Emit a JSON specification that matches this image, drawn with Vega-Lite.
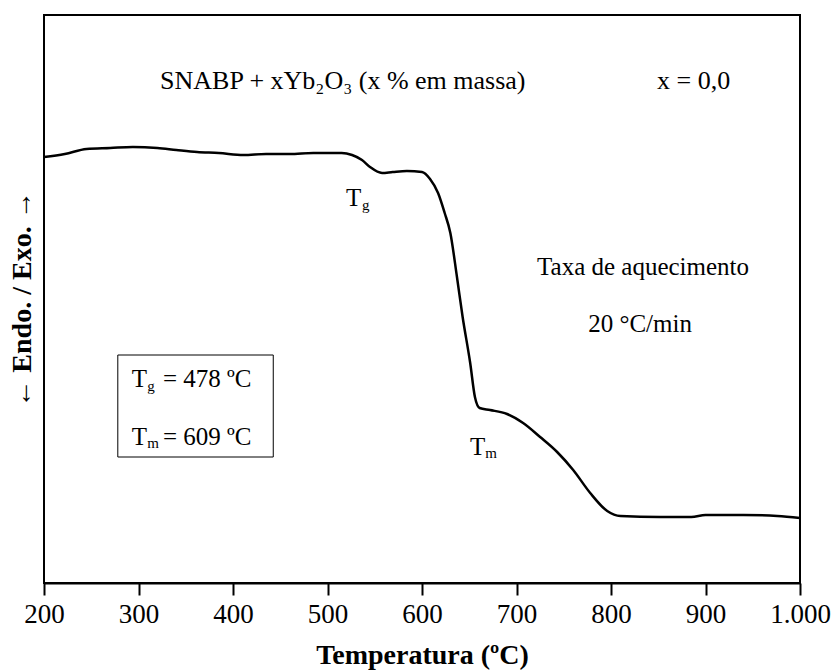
{
  "$schema": "https://vega.github.io/schema/vega-lite/v6.json",
  "width": 756,
  "height": 568,
  "autosize": {"type": "none"},
  "padding": {"left": 44, "top": 15, "right": 32, "bottom": 88},
  "background": "white",
  "config": {
    "font": "Liberation Serif",
    "view": {"stroke": "black", "strokeWidth": 2},
    "axis": {"labelFont": "Liberation Serif", "titleFont": "Liberation Serif", "labelColor": "black", "titleColor": "black", "grid": false}
  },
  "datasets": {
    "dsc": [
      {"T": 200, "v": 426}, {"T": 222, "v": 429}, {"T": 245, "v": 434}, {"T": 270, "v": 435},
      {"T": 294, "v": 436}, {"T": 320, "v": 435}, {"T": 340, "v": 433}, {"T": 362, "v": 431},
      {"T": 385, "v": 430}, {"T": 411, "v": 428}, {"T": 435, "v": 429}, {"T": 460, "v": 429},
      {"T": 485, "v": 430}, {"T": 503, "v": 430}, {"T": 515, "v": 430}, {"T": 526, "v": 428},
      {"T": 536.5, "v": 423}, {"T": 545, "v": 416}, {"T": 557.7, "v": 410}, {"T": 569, "v": 411},
      {"T": 584, "v": 412}, {"T": 600, "v": 411}, {"T": 608.5, "v": 404}, {"T": 617, "v": 390},
      {"T": 624, "v": 370}, {"T": 630, "v": 350}, {"T": 637, "v": 306},
      {"T": 643, "v": 266}, {"T": 651, "v": 220}, {"T": 656, "v": 186}, {"T": 661, "v": 175},
      {"T": 672, "v": 173}, {"T": 690, "v": 169}, {"T": 707, "v": 160}, {"T": 725, "v": 146},
      {"T": 743, "v": 131}, {"T": 760, "v": 113}, {"T": 778, "v": 90}, {"T": 796, "v": 72},
      {"T": 810, "v": 67}, {"T": 852, "v": 66}, {"T": 885, "v": 66}, {"T": 900, "v": 68},
      {"T": 940, "v": 68}, {"T": 976, "v": 67}, {"T": 1000, "v": 65}
    ],
    "notes": [
      {"kind": "top", "T": 322.8, "v": 494, "label": "SNABP + xYb₂O₃ (x % em massa)"},
      {"kind": "top", "T": 848.7, "v": 494, "label": "x = 0,0"},
      {"kind": "center", "T": 833.9, "v": 308, "label": "Taxa de aquecimento"},
      {"kind": "center", "T": 830.7, "v": 251, "label": "20 °C/min"},
      {"kind": "main", "T": 519.6, "v": 377, "label": "T"},
      {"kind": "sub", "T": 536.5, "v": 373, "label": "g"},
      {"kind": "main", "T": 650.8, "v": 128, "label": "T"},
      {"kind": "sub", "T": 667, "v": 125, "label": "m"},
      {"kind": "main", "T": 292.8, "v": 196, "label": "T"},
      {"kind": "sub", "T": 309.3, "v": 192, "label": "g"},
      {"kind": "main", "T": 325.9, "v": 196, "label": "= 478 ºC"},
      {"kind": "main", "T": 292.8, "v": 138, "label": "T"},
      {"kind": "sub", "T": 309.3, "v": 135, "label": "m"},
      {"kind": "main", "T": 325.9, "v": 138, "label": "= 609 ºC"}
    ],
    "box": [
      {"T1": 278.1, "T2": 442.6, "v1": 126, "v2": 228}
    ]
  },
  "layer": [
    {
      "data": {"name": "box"},
      "mark": {"type": "rect", "fill": null, "stroke": "black", "strokeWidth": 1},
      "encoding": {
        "x": {"field": "T1", "type": "quantitative"},
        "x2": {"field": "T2"},
        "y": {"field": "v1", "type": "quantitative"},
        "y2": {"field": "v2"}
      }
    },
    {
      "data": {"name": "dsc"},
      "mark": {"type": "line", "color": "black", "strokeWidth": 2.5, "interpolate": "monotone"},
      "encoding": {
        "x": {
          "field": "T", "type": "quantitative",
          "scale": {"domain": [200, 1000], "nice": false, "zero": false},
          "axis": {
            "values": [200, 300, 400, 500, 600, 700, 800, 900, 1000],
            "labelExpr": "replace(format(datum.value, ','), ',', '.')",
            "title": "Temperatura (ºC)",
            "titleFont": "Liberation Serif",
            "titleFontSize": 28, "titleFontWeight": "bold", "titlePadding": 14,
            "labelFont": "Liberation Serif",
            "labelFontSize": 27, "labelPadding": 6, "labelFlush": false, "labelOverlap": false,
            "ticks": true, "tickSize": 12, "tickWidth": 2, "tickColor": "black",
            "domain": true, "domainColor": "black", "domainWidth": 2
          }
        },
        "y": {
          "field": "v", "type": "quantitative",
          "scale": {"domain": [0, 568], "nice": false, "zero": false},
          "axis": {
            "title": "← Endo. / Exo. →",
            "titleFont": "Liberation Serif",
            "titleFontSize": 28, "titleFontWeight": "bold", "titlePadding": 8,
            "labels": false, "ticks": false, "domain": false
          }
        }
      }
    },
    {
      "data": {"name": "notes"},
      "transform": [{"filter": "datum.kind === 'top'"}],
      "mark": {"type": "text", "align": "left", "baseline": "alphabetic", "fontSize": 26, "font": "Liberation Serif", "color": "black"},
      "encoding": {
        "x": {"field": "T", "type": "quantitative"},
        "y": {"field": "v", "type": "quantitative"},
        "text": {"field": "label"}
      }
    },
    {
      "data": {"name": "notes"},
      "transform": [{"filter": "datum.kind === 'center'"}],
      "mark": {"type": "text", "align": "center", "baseline": "alphabetic", "fontSize": 25, "font": "Liberation Serif", "color": "black"},
      "encoding": {
        "x": {"field": "T", "type": "quantitative"},
        "y": {"field": "v", "type": "quantitative"},
        "text": {"field": "label"}
      }
    },
    {
      "data": {"name": "notes"},
      "transform": [{"filter": "datum.kind === 'main'"}],
      "mark": {"type": "text", "align": "left", "baseline": "alphabetic", "fontSize": 25, "font": "Liberation Serif", "color": "black"},
      "encoding": {
        "x": {"field": "T", "type": "quantitative"},
        "y": {"field": "v", "type": "quantitative"},
        "text": {"field": "label"}
      }
    },
    {
      "data": {"name": "notes"},
      "transform": [{"filter": "datum.kind === 'sub'"}],
      "mark": {"type": "text", "align": "left", "baseline": "alphabetic", "fontSize": 15, "font": "Liberation Serif", "color": "black"},
      "encoding": {
        "x": {"field": "T", "type": "quantitative"},
        "y": {"field": "v", "type": "quantitative"},
        "text": {"field": "label"}
      }
    }
  ]
}
